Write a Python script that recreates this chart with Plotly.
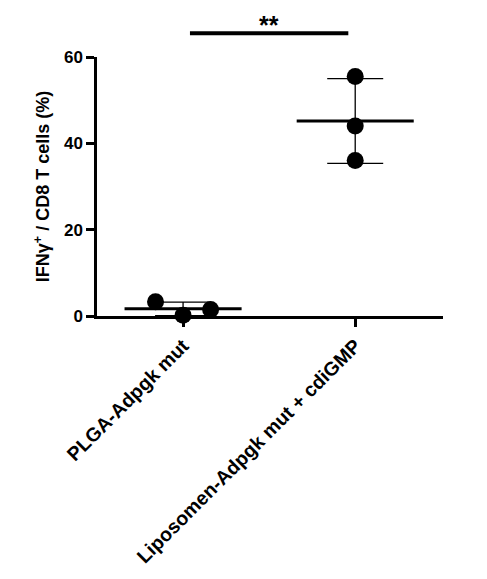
import numpy as np
import plotly.graph_objects as go

# data
groups = ["PLGA-Adpgk mut", "Liposomen-Adpgk mut + cdiGMP"]
plga_vals = [3.3, 0.2, 1.5]
lipo_vals = [55.5, 44.0, 36.0]
plga_jitter = [-0.16, 0.0, 0.16]
lipo_jitter = [0.0, 0.0, 0.0]
y_ticks = [0, 20, 40, 60]
sig_label = "**"

font = dict(family="Liberation Sans, Arial", color="black")

fig = go.Figure()
for i, (vals, jit) in enumerate([(plga_vals, plga_jitter), (lipo_vals, lipo_jitter)]):
    vals = np.array(vals)
    mean = vals.mean()
    sd = vals.std(ddof=1)
    # mean bar
    fig.add_trace(go.Scatter(x=[i - 0.34, i + 0.34], y=[mean, mean], mode="lines",
                             line=dict(color="black", width=3), showlegend=False,
                             cliponaxis=False))
    # SD whiskers
    fig.add_trace(go.Scatter(x=[i], y=[mean], mode="markers", marker=dict(size=1, color="rgba(0,0,0,0)"),
                             error_y=dict(type="data", array=[sd], color="black", thickness=1.3, width=28),
                             showlegend=False, cliponaxis=False))
    # points
    fig.add_trace(go.Scatter(x=[i + j for j in jit], y=vals, mode="markers",
                             marker=dict(size=17, color="black"), showlegend=False,
                             cliponaxis=False))

# significance bar (above the plot area)
fig.add_shape(type="line", x0=0.04, x1=0.96, y0=1.092, y1=1.092, xref="x", yref="paper",
              line=dict(color="black", width=4))
fig.add_annotation(x=0.5, y=1.186, xref="x", yref="paper", text="<b>%s</b>" % sig_label,
                   showarrow=False, yanchor="top", font=dict(size=25, **font))

fig.update_layout(
    width=479, height=571,
    margin=dict(l=89, r=44, t=49, b=261),
    plot_bgcolor="white", paper_bgcolor="white",
    font=dict(size=16, **font),
)
fig.update_xaxes(range=[-0.5, 1.51], tickvals=[0, 1], ticktext=["<b>%s</b>" % g for g in groups],
                 tickangle=-45, showline=True, linecolor="black", linewidth=2.5,
                 ticks="outside", ticklen=8, tickwidth=2.5, tickcolor="black",
                 showgrid=False, zeroline=False, tickfont=dict(size=19.5, **font))
fig.update_yaxes(range=[0, 60], tickvals=y_ticks, ticktext=["<b>%d</b>" % t for t in y_ticks],
                 showline=True, linecolor="black", linewidth=2.5,
                 ticks="outside", ticklen=8, tickwidth=2.5, tickcolor="black",
                 showgrid=False, zeroline=False, tickfont=dict(size=17, **font),
                 title=dict(text="<b>IFNγ<sup>+</sup> / CD8 T cells (%)</b>", standoff=10,
                            font=dict(size=18, **font)))

fig.write_html("out.html")
